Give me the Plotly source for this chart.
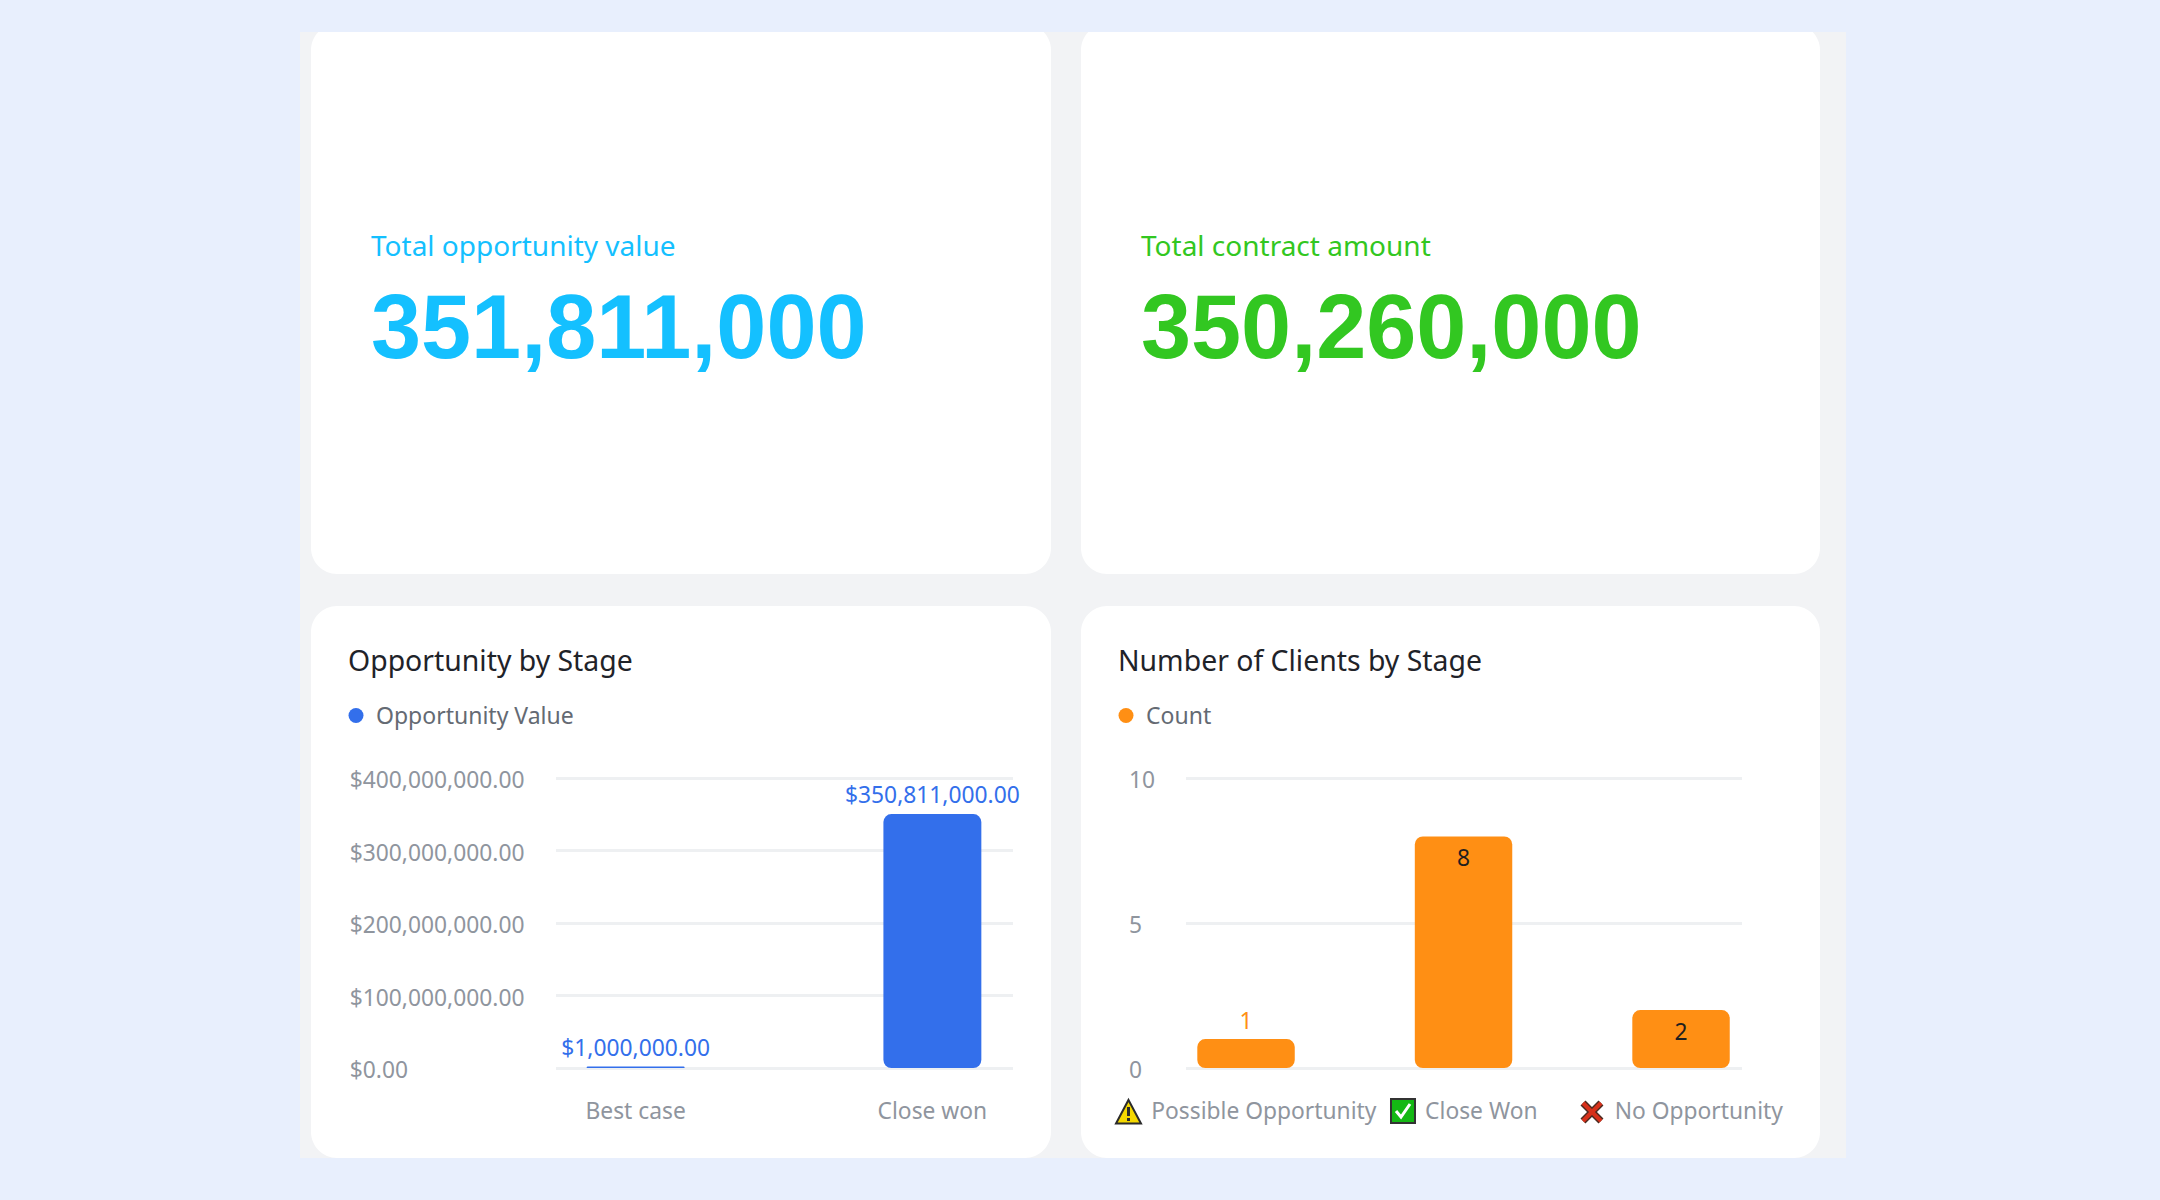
import plotly.graph_objects as go

# values
stages = ['Best case', 'Close won']
opportunityValue = [1000000, 350811000]
opportunityLabels = ['$1,000,000.00', '$350,811,000.00']
opportunityTicks = [0, 100000000, 200000000, 300000000, 400000000]
opportunityTickLabels = ['$0.00', '$100,000,000.00', '$200,000,000.00', '$300,000,000.00', '$400,000,000.00']

clientStages = ['Possible Opportunity', 'Close Won', 'No Opportunity']
clientCount = [1, 8, 2]
clientTicks = [0, 5, 10]
clientTickLabels = ['0', '5', '10']

BG = '#E8EFFD'
PANEL = '#F2F3F5'
BLUE = '#336FEB'
ORANGE = '#FF8F14'
CYAN = '#14C0FF'
GREEN = '#32C721'
GRID = '#EEF0F2'
TICK = '#8F959E'
LEGEND_TEXT = '#646A73'
TITLE = '#1F2329'
FONT = 'Noto Sans'
W, H = 2160, 1200


def px(x):
    return x / W


def py(y):
    return 1 - y / H


def rectShape(x0, y0, x1, y1, color):
    return dict(type='rect', xref='paper', yref='paper', x0=px(x0), x1=px(x1), y0=py(y0), y1=py(y1),
                fillcolor=color, line_width=0, layer='below')


def pathShape(points, fill=None, line=None, width=0, close=True):
    d = 'M' + ' L'.join(f'{px(x):.5f},{py(y):.5f}' for x, y in points) + (' Z' if close else '')
    return dict(type='path', xref='paper', yref='paper', path=d, fillcolor=fill or 'rgba(0,0,0,0)',
                line=dict(color=line or 'rgba(0,0,0,0)', width=width))


def cardShape(x0, y0, x1, y1, r=26):
    k = r * 0.45
    d = (f'M{px(x0 + r):.5f},{py(y0):.5f} L{px(x1 - r):.5f},{py(y0):.5f} '
         f'C{px(x1 - k):.5f},{py(y0):.5f} {px(x1):.5f},{py(y0 + k):.5f} {px(x1):.5f},{py(y0 + r):.5f} '
         f'L{px(x1):.5f},{py(y1 - r):.5f} '
         f'C{px(x1):.5f},{py(y1 - k):.5f} {px(x1 - k):.5f},{py(y1):.5f} {px(x1 - r):.5f},{py(y1):.5f} '
         f'L{px(x0 + r):.5f},{py(y1):.5f} '
         f'C{px(x0 + k):.5f},{py(y1):.5f} {px(x0):.5f},{py(y1 - k):.5f} {px(x0):.5f},{py(y1 - r):.5f} '
         f'L{px(x0):.5f},{py(y0 + r):.5f} '
         f'C{px(x0):.5f},{py(y0 + k):.5f} {px(x0 + k):.5f},{py(y0):.5f} {px(x0 + r):.5f},{py(y0):.5f} Z')
    return dict(type='path', xref='paper', yref='paper', path=d, fillcolor='white', line_width=0, layer='below')


def textNote(x, y, text, size, color, family=FONT, bold=False):
    return dict(xref='paper', yref='paper', x=px(x), y=py(y), xanchor='left', yanchor='middle', showarrow=False,
                text=f'<b>{text}</b>' if bold else text, font=dict(family=family, size=size, color=color))


def addBars(fig, cats, values, color, width, xaxis, yaxis):
    # a base just off zero makes plotly round the bottom corners too
    base = [max(values) * 1e-6 for v in values]
    fig.add_trace(go.Bar(x=cats, y=values, base=base, width=width,
                         marker=dict(color=color, cornerradius=8, line_width=0),
                         showlegend=False, hoverinfo='skip', xaxis=xaxis, yaxis=yaxis))


fig = go.Figure()

# Opportunity by Stage
addBars(fig, stages, opportunityValue, BLUE, 0.33, 'x', 'y')
fig.add_trace(go.Scatter(x=stages, y=opportunityValue, mode='markers+text', text=opportunityLabels,
                         textposition='top center', marker=dict(size=7, opacity=0),
                         textfont=dict(family=FONT, size=22.8, color=BLUE),
                         cliponaxis=False, showlegend=False, hoverinfo='skip', xaxis='x', yaxis='y'))
fig.add_trace(go.Scatter(x=[None], y=[None], mode='markers', name='Opportunity Value',
                         marker=dict(color=BLUE, size=15), legend='legend', xaxis='x', yaxis='y'))

# Number of Clients by Stage
addBars(fig, clientStages, clientCount, ORANGE, 0.448, 'x2', 'y2')
fig.add_trace(go.Scatter(x=clientStages, y=clientCount, mode='markers+text', text=[str(c) for c in clientCount],
                         textposition=['top center', 'bottom center', 'bottom center'],
                         marker=dict(size=[5, 19, 19], opacity=0),
                         textfont=dict(family=FONT, size=22.8, color=[ORANGE, '#1F1F1F', '#1F1F1F']),
                         cliponaxis=False, showlegend=False, hoverinfo='skip', xaxis='x2', yaxis='y2'))
fig.add_trace(go.Scatter(x=[None], y=[None], mode='markers', name='Count',
                         marker=dict(color=ORANGE, size=15), legend='legend2', xaxis='x2', yaxis='y2'))

# panel and cards
shapes = [
    rectShape(300, 32, 1846, 1158, PANEL),
    cardShape(311, 24, 1051, 574),
    cardShape(1081, 24, 1820, 574),
    cardShape(311, 606, 1051, 1158),
    cardShape(1081, 606, 1820, 1158),
    rectShape(0, 0, W, 32, BG),
]

# icons in front of the category labels
shapes += [
    pathShape([(1128.5, 1100), (1141, 1123.5), (1116, 1123.5)], fill='#F5D800', line='#2B2B2B', width=2),
    pathShape([(1128.5, 1107), (1128.5, 1116)], line='#2B2B2B', width=3, close=False),
    pathShape([(1128.5, 1118), (1128.5, 1121)], line='#2B2B2B', width=3, close=False),
    pathShape([(1391, 1099), (1415, 1099), (1415, 1123), (1391, 1123)], fill='#14B814', line='#333333', width=2),
    pathShape([(1396, 1111), (1401, 1117), (1410, 1104)], line='white', width=3, close=False),
    pathShape([(1583, 1103), (1601, 1121)], line='#4A2A20', width=7, close=False),
    pathShape([(1601, 1103), (1583, 1121)], line='#4A2A20', width=7, close=False),
    pathShape([(1583, 1103), (1601, 1121)], line='#D7301A', width=4, close=False),
    pathShape([(1601, 1103), (1583, 1121)], line='#D7301A', width=4, close=False),
]

annotations = [
    textNote(368.5, 245, 'Total opportunity value', 28, CYAN),
    textNote(1139, 245, 'Total contract amount', 28, GREEN),
    textNote(369, 327, '351,811,000', 90, CYAN, family='Liberation Sans', bold=True),
    textNote(1139, 327, '350,260,000', 90, GREEN, family='Liberation Sans', bold=True),
    textNote(346, 660, 'Opportunity by Stage', 28.4, TITLE),
    textNote(1116, 660, 'Number of Clients by Stage', 28.4, TITLE),
]


def leftAligned(labels):
    # pad with digit / punctuation sized spaces, the reference has its value labels flush left
    longest = labels[-1]
    padded = []
    for label in labels:
        missing = longest[1:len(longest) - len(label) + 1] if len(label) < len(longest) else ''
        pad = ''.join('\u2008' if c == ',' else '\u2007' for c in missing)
        padded.append(label + pad)
    return padded


axisFont = dict(family=FONT, size=22.8, color=TICK)
gridAxis = dict(showgrid=True, gridcolor=GRID, gridwidth=2.5, zeroline=True, zerolinecolor=GRID, zerolinewidth=2.5,
                showline=False, ticks='', tickfont=axisFont, ticklabelstandoff=30, ticklabelshift=2, automargin=False)
catAxis = dict(type='category', showgrid=False, zeroline=False, showline=False, ticks='', tickfont=axisFont,
               ticklabelstandoff=27, tickangle=0, automargin=False)

# the y ranges run 2px past the top tick, plotly drops a gridline that sits right on the axis end
fig.update_layout(
    width=W, height=H, autosize=False,
    margin=dict(l=0, r=0, t=0, b=0, autoexpand=False),
    paper_bgcolor=BG, plot_bgcolor='rgba(0,0,0,0)',
    barmode='overlay',
    font=dict(family=FONT),
    shapes=shapes,
    annotations=annotations,
    xaxis=dict(catAxis, domain=[px(555.5), px(1012.5)], range=[-0.27, 1.27], anchor='y'),
    yaxis=dict(gridAxis, domain=[py(1068), py(776.5)], range=[0, 402763000], anchor='x',
               tickvals=opportunityTicks, ticktext=leftAligned(opportunityTickLabels)),
    xaxis2=dict(catAxis, domain=[px(1186), px(1741.5)], range=[-0.276, 2.278], anchor='y2',
                tickvals=clientStages,
                ticktext=['\u00a0' * 6 + s for s in clientStages]),
    yaxis2=dict(gridAxis, domain=[py(1068), py(776.5)], range=[0, 10.069], anchor='x2',
                tickvals=clientTicks, ticktext=leftAligned(clientTickLabels)),
    legend=dict(x=px(336), y=py(694), xanchor='left', yanchor='top', bgcolor='rgba(0,0,0,0)',
                font=dict(family=FONT, size=23, color=LEGEND_TEXT)),
    legend2=dict(x=px(1106), y=py(694), xanchor='left', yanchor='top', bgcolor='rgba(0,0,0,0)',
                 font=dict(family=FONT, size=23, color=LEGEND_TEXT)),
)

fig.write_html("out.html", config={'displayModeBar': False},
               post_script="document.body.style.margin='0';document.body.style.overflow='hidden';")
